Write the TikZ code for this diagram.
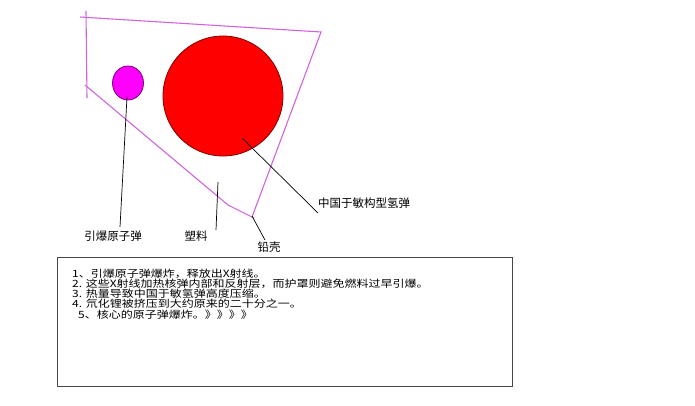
\documentclass[tikz,border=0pt]{standalone}
\usepackage{fontspec}
\newfontfamily\cjk{Noto Sans CJK SC}
\newfontfamily\cjkwide[FakeStretch=1.2]{Noto Sans CJK SC}
\usetikzlibrary{shapes.geometric}
\definecolor{shellc}{RGB}{208,100,222}
\definecolor{bigborder}{RGB}{130,0,0}
\definecolor{smallfill}{RGB}{255,0,255}
\definecolor{smallborder}{RGB}{120,0,120}
\definecolor{boxc}{RGB}{70,70,70}
\tikzset{
  shell/.style={draw=shellc, line width=1.1pt},
  lead/.style={draw=black, line width=0.7pt},
  lbl/.style={inner sep=0pt, font=\cjk\fontsize{11.5}{12}\selectfont},
  txt/.style={inner sep=0pt, anchor=base west, font=\cjkwide\fontsize{10}{12}\selectfont},
}
\begin{document}
\begin{tikzpicture}[x=1pt,y=-1pt]
\useasboundingbox (0,0) rectangle (695,405);
\fill[white] (0,0) rectangle (695,405);
% shell
\coordinate (vt) at (86,11);
\coordinate (vb) at (87,98);
\coordinate (tl) at (80,17);
\coordinate (tr) at (321,32);
\coordinate (br) at (252,217);
\coordinate (dl) at (85,85);
\coordinate (bk) at (228,205);
\coordinate (be) at (254,218);
\draw[shell] (vt) -- (vb);
\draw[shell] (tl) -- (tr) -- (br);
\draw[shell] (dl) -- (bk) -- (be);
% circles
\node[circle, fill=red, draw=bigborder, line width=0.8pt, minimum size=120pt, inner sep=0pt] (big) at (223,96) {};
\node[ellipse, fill=smallfill, draw=smallborder, line width=0.8pt, minimum width=31pt, minimum height=34pt, inner sep=0pt] (small) at (128,83) {};
% labels
\node[lbl] (l1) at (113,236) {引爆原子弹};
\node[lbl] (l2) at (196,236) {塑料};
\node[lbl] (l3) at (269,247) {铅壳};
\node[lbl, anchor=west] (l4) at (318,203) {中国于敏构型氢弹};
% leads
\coordinate (a1) at (127,97);
\coordinate (a2) at (120,227);
\coordinate (b1) at (218,182);
\coordinate (b2) at (216,230);
\coordinate (c1) at (242,138);
\coordinate (c2) at (318,213);
\coordinate (d1) at (252,216);
\coordinate (d2) at (265,240);
\draw[lead] (a1) -- (a2);
\draw[lead] (b1) -- (b2);
\draw[lead] (c1) -- (c2);
\draw[lead] (d1) -- (d2);
% text box
\node[draw=boxc, line width=1.2pt, minimum width=455pt, minimum height=129pt, inner sep=0pt, anchor=north west] (box) at (57,257) {};
\node[txt] (t1) at (72,277.5) {1、引爆原子弹爆炸，释放出X射线。};
\node[txt] (t2) at (72,287.5) {2. 这些X射线加热核弹内部和反射层，而护罩则避免燃料过早引爆。};
\node[txt] (t3) at (72,297.5) {3. 热量导致中国于敏氢弹高度压缩。};
\node[txt] (t4) at (72,307.5) {4. 氘化锂被挤压到大约原来的二十分之一。};
\node[txt] (t5) at (78,318) {5、核心的原子弹爆炸。》》》》};
\end{tikzpicture}
\end{document}
